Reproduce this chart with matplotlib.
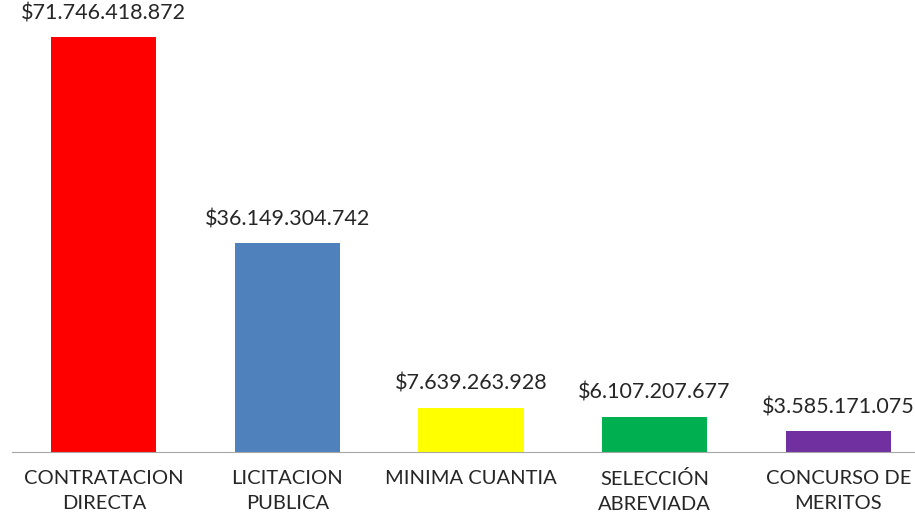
import matplotlib.pyplot as plt
import numpy as np

categorias = ["CONTRATACION\nDIRECTA", "LICITACION\nPUBLICA", "MINIMA CUANTIA",
              "SELECCIÓN\nABREVIADA", "CONCURSO DE\nMERITOS"]
valores = [71746418872, 36149304742, 7639263928, 6107207677, 3585171075]
etiquetas = ["$71.746.418.872", "$36.149.304.742", "$7.639.263.928",
             "$6.107.207.677", "$3.585.171.075"]
colores = ["#FF0000", "#4F81BD", "#FFFF00", "#00B050", "#7030A0"]

plt.rcParams['font.family'] = ['Lato', 'DejaVu Sans']

fig = plt.figure(figsize=(9.15, 5.15), dpi=100)
# axes a bit wider than the figure: the last label is cut at the right edge
ax = fig.add_axes([12 / 915, 63 / 515, 918 / 915, 452 / 515])

x = np.arange(len(valores))
ax.bar(x, valores, width=0.574, color=colores)

for xi, v, t in zip(x, valores, etiquetas):
    ax.annotate(t, (xi, v), xytext=(0, 10), textcoords="offset points",
                ha="center", va="bottom", fontsize=15.5, color="#262626",
                annotation_clip=False)

ax.set_xlim(-0.5, 4.5)
ax.set_ylim(0, max(valores) * 452 / 415)
ax.set_xticks(x)
ax.set_xticklabels(categorias, fontsize=14.5, color="#262626", linespacing=1.6)
ax.tick_params(axis="x", length=0, pad=13)
ax.set_yticks([])
for s in ["top", "left", "right"]:
    ax.spines[s].set_visible(False)
ax.spines["bottom"].set_color("#A6A6A6")

fig.savefig("out.png", dpi=100)
